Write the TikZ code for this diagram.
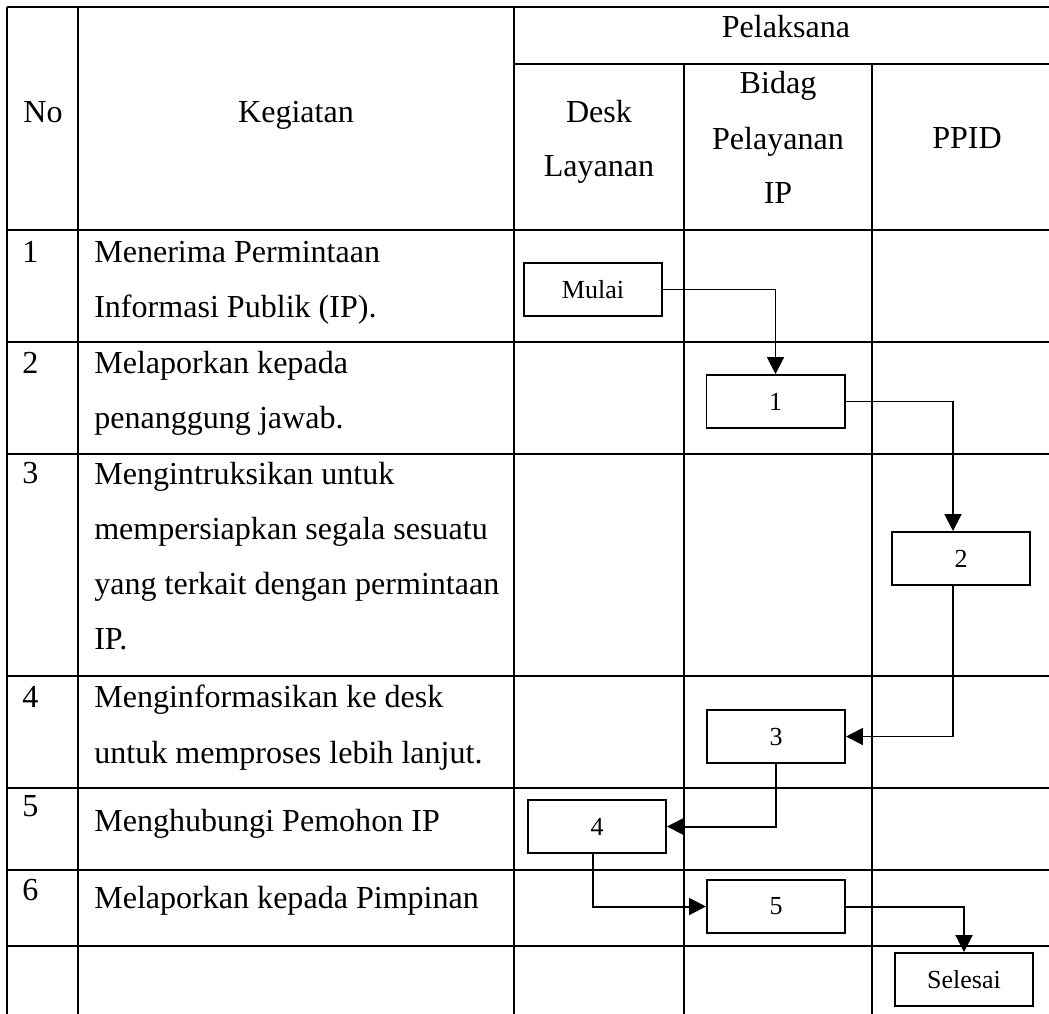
\documentclass[tikz,border=0pt]{standalone}
\usepackage{fontspec}
\setmainfont{Liberation Serif}
\usetikzlibrary{arrows.meta}

\begin{document}
\begin{tikzpicture}[x=0.025cm, y=-0.025cm,
  garis/.style={line width=1pt},
  kotak/.style={draw, line width=1.4pt, minimum width=3.45cm, minimum height=1.325cm,
    inner sep=0pt, font=\fontsize{18.5}{22}\selectfont},
  panah/.style={line width=1.4pt, -{Triangle[length=0.42cm, width=0.42cm]}},
  teks/.style={anchor=base west, inner sep=0pt, font=\fontsize{22.8}{27}\selectfont},
  judul/.style={anchor=base, inner sep=0pt, font=\fontsize{22.8}{27}\selectfont}]

\useasboundingbox (0,0) rectangle (1049,1013);

% garis tabel
\draw [garis] (7,7) -- (1062,7);
\draw [garis] (514,64) -- (1062,64);
\foreach \y in {230,342,454,676,788,870,946}
   \draw [garis] (7,\y) -- (1062,\y);
\foreach \x in {7,78,514}
   \draw [garis] (\x,7) -- (\x,1020);
\foreach \x in {684,872}
   \draw [garis] (\x,64) -- (\x,1020);

% kepala tabel
\node [judul] (pelaksana) at (786,37) {Pelaksana};
\node [judul] (no) at (43,122) {No};
\node [judul] (kegiatan) at (296,122) {Kegiatan};
\node [judul] (desk) at (599,122) {Desk};
\node [judul] (layanan) at (599,176) {Layanan};
\node [judul] (bidag) at (778,93) {Bidag};
\node [judul] (pelayanan) at (778,149) {Pelayanan};
\node [judul] (ip) at (778,203) {IP};
\node [judul] (ppid) at (967,148) {PPID};

% nomor
\foreach \n/\y in {1/262,2/373,3/483,4/707,5/816,6/900}
   \node [teks] (no\n) at (22,\y) {\n};

% kegiatan
\node [teks] (k1a) at (94,262) {Menerima Permintaan};
\node [teks] (k1b) at (94,317) {Informasi Publik (IP).};
\node [teks] (k2a) at (94,373) {Melaporkan kepada};
\node [teks] (k2b) at (94,428) {penanggung jawab.};
\node [teks] (k3a) at (94,484) {Mengintruksikan untuk};
\node [teks] (k3b) at (94,539) {mempersiapkan segala sesuatu};
\node [teks] (k3c) at (94,594) {yang terkait dengan permintaan};
\node [teks] (k3d) at (94,649) {IP.};
\node [teks] (k4a) at (94,707) {Menginformasikan ke desk};
\node [teks] (k4b) at (94,763) {untuk memproses lebih lanjut.};
\node [teks] (k5) at (94,831) {Menghubungi Pemohon IP};
\node [teks] (k6) at (94,908) {Melaporkan kepada Pimpinan};

% alur
\node [kotak] (mulai) at (593,289.5) {Mulai};
\node [kotak] (b1) at (775.5,401.5) {1};
\node [kotak] (b2) at (961,558.5) {2};
\node [kotak] (b3) at (776,736.5) {3};
\node [kotak] (b4) at (597,826.5) {4};
\node [kotak] (b5) at (776,906.5) {5};
\node [kotak] (selesai) at (964,979.5) {Selesai};

\draw [panah] (mulai.east) -| (b1.north);
\draw [panah] (b1.east) -| ([xshift=-0.2cm]b2.north);
\draw [panah] ([xshift=-0.2cm]b2.south) |- (b3.east);
\draw [panah] (b3.south) |- (b4.east);
\draw [panah] ([xshift=-0.1cm]b4.south) |- (b5.west);
\draw [panah] (b5.east) -| (selesai.north);

\end{tikzpicture}
\end{document}
